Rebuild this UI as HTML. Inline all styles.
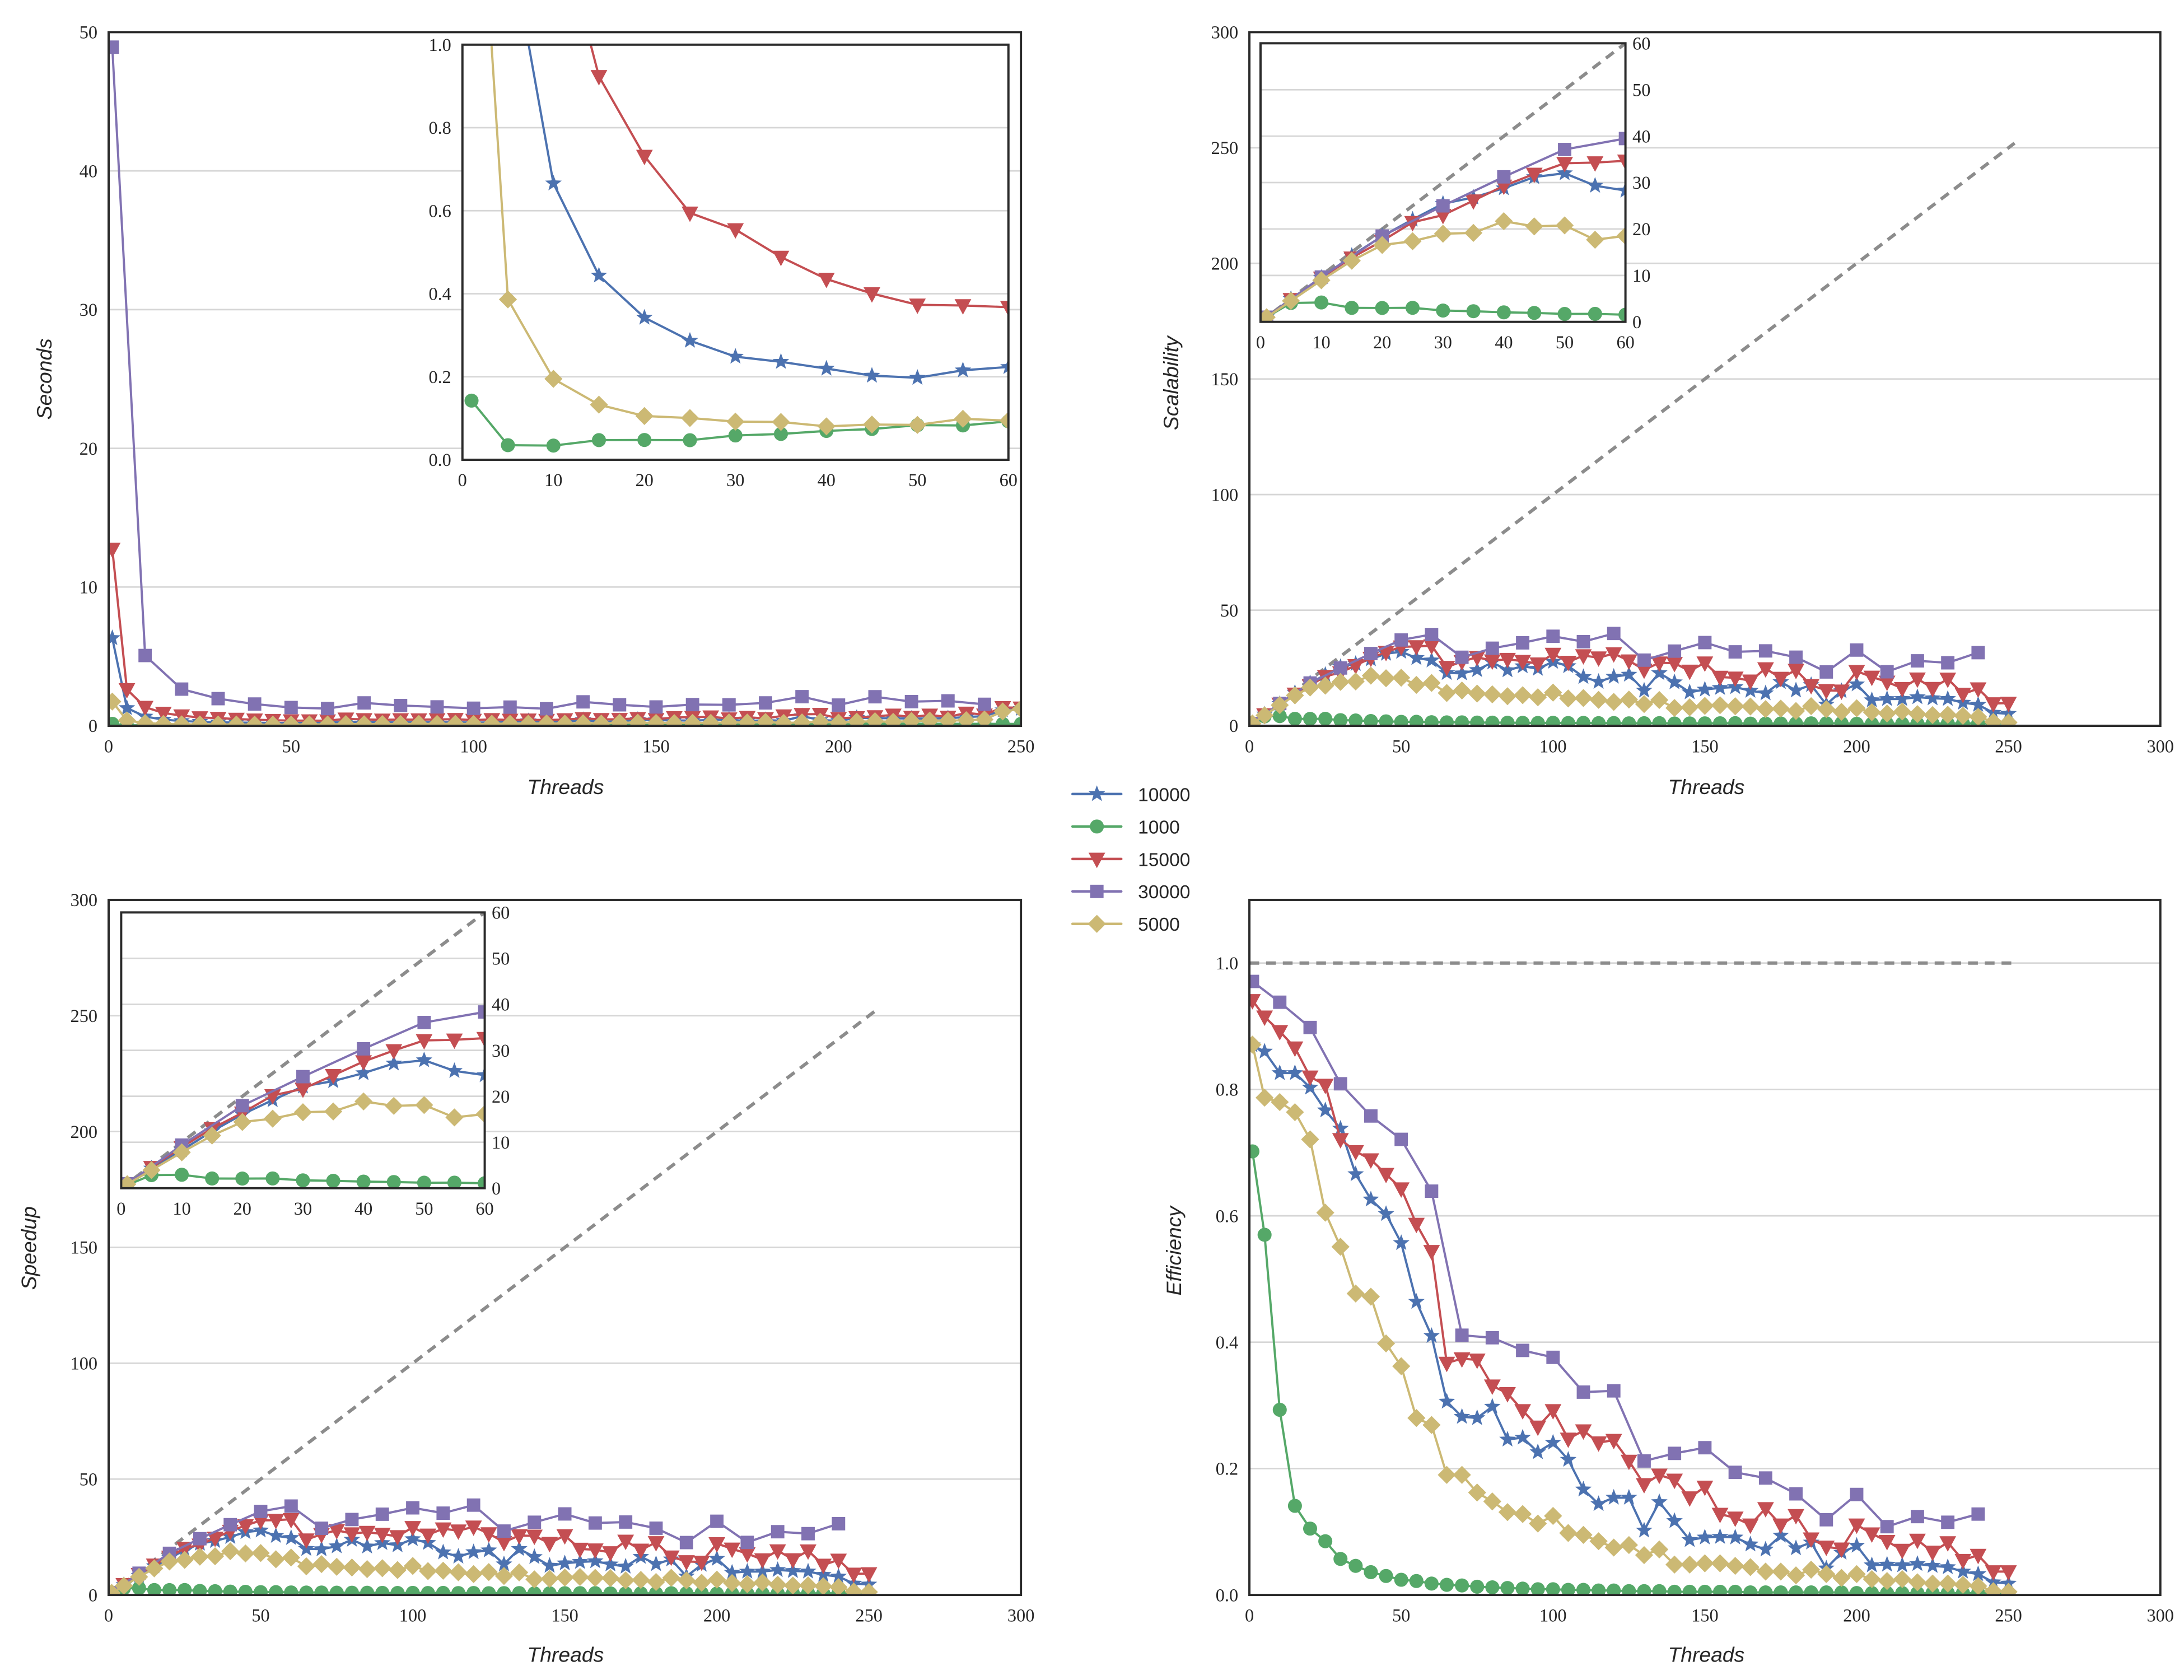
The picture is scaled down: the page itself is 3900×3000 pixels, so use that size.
<!DOCTYPE html>
<html><head><meta charset="utf-8">
<style>
html,body{margin:0;padding:0;background:#fff;}
svg{display:block;}
.tick{font-family:"Liberation Serif",serif;font-size:13px;fill:#262626;}
.alab{font-family:"Liberation Sans",sans-serif;font-style:italic;font-size:15px;fill:#262626;}
.leg{font-family:"Liberation Sans",sans-serif;font-size:13.5px;fill:#262626;}
</style></head>
<body>
<svg id="fig" width="3900" height="3000" viewBox="0 0 1568 1206" xmlns="http://www.w3.org/2000/svg">
<rect width="1568" height="1206" fill="#fff"/>
</svg>
<script>
const threads = [1,5,10,15,20,25,30,35,40,45,50,55,60,65,70,75,80,85,90,95,100,105,110,115,120,125,130,135,140,145,150,155,160,165,170,175,180,185,190,195,200,205,210,215,220,225,230,235,240,245,250];
const threadsCoarse = [1,10,20,30,40,50,60,70,80,90,100,110,120,130,140,150,160,170,180,190,200,210,220,230,240];
const seriesNames = ["10000","1000","15000","30000","5000"];
const effBlue = [0.87,0.86,0.826,0.826,0.803,0.767,0.738,0.666,0.626,0.603,0.557,0.464,0.41,0.306,0.282,0.28,0.298,0.246,0.249,0.226,0.241,0.214,0.167,0.144,0.154,0.154,0.102,0.147,0.117,0.087,0.091,0.092,0.091,0.080,0.072,0.094,0.074,0.083,0.042,0.067,0.078,0.047,0.048,0.047,0.049,0.046,0.044,0.037,0.033,0.020,0.018];
const effGreen = [0.702,0.57,0.293,0.141,0.105,0.085,0.057,0.046,0.036,0.030,0.024,0.022,0.018,0.016,0.015,0.013,0.012,0.011,0.010,0.009,0.009,0.008,0.008,0.007,0.007,0.006,0.006,0.006,0.005,0.005,0.005,0.005,0.005,0.004,0.004,0.004,0.004,0.004,0.004,0.004,0.003,0.003,0.003,0.003,0.003,0.003,0.003,0.003,0.003,0.003,0.003];
const effRed = [0.941,0.915,0.892,0.866,0.82,0.807,0.721,0.702,0.689,0.666,0.643,0.587,0.544,0.367,0.374,0.372,0.331,0.319,0.292,0.266,0.292,0.247,0.26,0.241,0.245,0.212,0.175,0.190,0.182,0.154,0.171,0.128,0.122,0.111,0.137,0.111,0.126,0.089,0.076,0.073,0.111,0.097,0.085,0.071,0.087,0.068,0.083,0.055,0.063,0.037,0.037];
const effPurple = [0.971,0.938,0.898,0.809,0.758,0.721,0.639,0.411,0.407,0.387,0.376,0.321,0.323,0.212,0.224,0.233,0.194,0.185,0.160,0.119,0.159,0.108,0.124,0.115,0.128];
const effYellow = [0.871,0.787,0.780,0.764,0.721,0.605,0.551,0.477,0.472,0.398,0.362,0.280,0.269,0.190,0.190,0.162,0.148,0.131,0.128,0.113,0.125,0.098,0.095,0.085,0.075,0.079,0.063,0.072,0.048,0.048,0.050,0.050,0.046,0.044,0.037,0.037,0.031,0.040,0.033,0.027,0.033,0.025,0.022,0.025,0.020,0.018,0.018,0.016,0.014,0.006,0.005];
const seqSeconds = [5.5, 0.1, 12.0, 47.5, 1.52];
const idealMax = 252;

const NS = "http://www.w3.org/2000/svg";
const fig = document.getElementById("fig");
const colors = ["#4C72B0","#55A868","#C44E52","#8172B2","#CCB974"];
const markers = ["star","circle","tri","square","diamond"];
const effs = [effBlue,effGreen,effRed,effPurple,effYellow];
const xs = [threads,threads,threads,threadsCoarse,threads];
let clipId = 0;

function el(tag, attrs, parent){
  const e = document.createElementNS(NS, tag);
  for (const k in attrs) e.setAttribute(k, attrs[k]);
  (parent||fig).appendChild(e);
  return e;
}
function markerPath(type, cx, cy, s){
  if (type==="circle") return null;
  if (type==="square") return `M${cx-s},${cy-s}h${2*s}v${2*s}h${-2*s}Z`;
  if (type==="diamond") { const d=s*1.35; return `M${cx},${cy-d}L${cx+d},${cy}L${cx},${cy+d}L${cx-d},${cy}Z`; }
  if (type==="tri") { const d=s*1.25; return `M${cx-d},${cy-d*0.75}L${cx+d},${cy-d*0.75}L${cx},${cy+d*1.1}Z`; }
  if (type==="star") {
    let p=""; const R=s*1.3, r=R*0.42;
    for (let i=0;i<10;i++){ const a=-Math.PI/2+i*Math.PI/5; const rr=i%2?r:R;
      p+=(i?"L":"M")+(cx+rr*Math.cos(a)).toFixed(2)+","+(cy+rr*Math.sin(a)).toFixed(2);}
    return p+"Z";
  }
}
function drawMarker(g, type, cx, cy, s, color){
  let m;
  if (type==="circle") m = el("circle",{cx:cx,cy:cy,r:s*1.05,fill:color},g);
  else m = el("path",{d:markerPath(type,cx,cy,s),fill:color},g);
  return m;
}
function valueOf(kind, si, i){
  const e = effs[si][i], n = xs[si][i];
  const e1 = effs[si][0];
  if (kind==="eff") return e;
  if (kind==="speedup") return e*n;
  if (kind==="scal") return e*n/e1;
  if (kind==="sec") return seqSeconds[si]/(e*n);
}
function axes(opt){
  const g = el("g",{});
  
  
  const sx = v => opt.x0 + (v-opt.xmin)/(opt.xmax-opt.xmin)*(opt.x1-opt.x0);
  const sy = v => opt.y1 - (v-opt.ymin)/(opt.ymax-opt.ymin)*(opt.y1-opt.y0);
  el("rect",{x:opt.x0,y:opt.y0,width:opt.x1-opt.x0,height:opt.y1-opt.y0,fill:"#fff"},g);
  opt.yticks.forEach(t=>{
    const gl = el("line",{x1:opt.x0,x2:opt.x1,y1:sy(t),y2:sy(t),stroke:"#d6d6d6","stroke-width":1.1},g);
    
    
    const right = opt.ySide==="right";
    const tx = el("text",{x: right? opt.x1+5 : opt.x0-8, y: sy(t)+4.5, class:"tick","text-anchor": right?"start":"end"},g);
    tx.textContent = opt.yfmt(t);
    
    
  });
  opt.xticks.forEach(t=>{
    const tx = el("text",{x:sx(t),y:opt.y1+19,class:"tick","text-anchor":"middle"},g);
    tx.textContent = String(t);
    
    
  });
  const id = "clip"+(clipId++);
  const cp = el("clipPath",{id:id},g);
  el("rect",{x:opt.x0,y:opt.y0,width:opt.x1-opt.x0,height:opt.y1-opt.y0},cp);
  const plot = el("g",{"clip-path":`url(#${id})`},g);
  
  
  if (opt.ideal){
    let d;
    if (opt.ideal==="diag") d = `M${sx(0)},${sy(0)}L${sx(idealMax)},${sy(idealMax)}`;
    else d = `M${sx(0)},${sy(1)}L${sx(idealMax)},${sy(1)}`;
    const il = el("path",{d:d,stroke:"#8c8c8c","stroke-width":2.4,"stroke-dasharray":"7,5",fill:"none"},plot);
    
    
  }
  for (let si=0; si<5; si++){
    const sg = el("g",{},plot);
    
    
    let d="";
    const pts=[];
    xs[si].forEach((n,i)=>{
      const v = valueOf(opt.kind, si, i);
      const px = sx(n), py = sy(Math.min(v, opt.ymax*3));
      pts.push([px,py]);
      d += (i?"L":"M")+px.toFixed(2)+","+py.toFixed(2);
    });
    const ln = el("path",{d:d,stroke:colors[si],"stroke-width":1.6,fill:"none","stroke-linejoin":"round"},sg);
    
    
    pts.forEach(p=>{
      const m = drawMarker(sg, markers[si], p[0], p[1], opt.ms, colors[si]);
      
      
    });
  }
  const fr = el("rect",{x:opt.x0,y:opt.y0,width:opt.x1-opt.x0,height:opt.y1-opt.y0,fill:"none",stroke:"#2a2a2a","stroke-width":1.6},g);
  
  
  return g;
}
function label(txt, x, y, rot, name){
  const t = el("text",{x:x,y:y,class:"alab","text-anchor":"middle",transform: rot?`rotate(-90 ${x} ${y})`:""});
  t.textContent = txt;
  
  
}
const intFmt = v=>String(v);
const t50 = [0,50,100,150,200,250,300];
const t60 = [0,10,20,30,40,50,60];

axes({name:"seconds-chart",kind:"sec",x0:78,x1:733,y0:23,y1:521,xmin:0,xmax:250,ymin:0,ymax:50,
  xticks:[0,50,100,150,200,250],yticks:[0,10,20,30,40,50],yfmt:intFmt,ms:4.8});
axes({name:"seconds-inset",kind:"sec",x0:332,x1:724,y0:32,y1:330,xmin:0,xmax:60,ymin:0,ymax:1.0,
  xticks:t60,yticks:[0,0.2,0.4,0.6,0.8,1.0],yfmt:v=>v.toFixed(1),ms:4.8});
label("Seconds",37,272,true,"y-axis-title-seconds");
label("Threads",406,570,false,"x-axis-title-seconds");

axes({name:"scalability-chart",kind:"scal",x0:897,x1:1551,y0:23,y1:521,xmin:0,xmax:300,ymin:0,ymax:300,
  xticks:t50,yticks:t50,yfmt:intFmt,ms:4.8,ideal:"diag"});
axes({name:"scalability-inset",kind:"scal",x0:905,x1:1167,y0:31,y1:231,xmin:0,xmax:60,ymin:0,ymax:60,
  xticks:t60,yticks:t60,yfmt:intFmt,ySide:"right",ms:4.8,ideal:"diag"});
label("Scalability",846,275,true,"y-axis-title-scalability");
label("Threads",1225,570,false,"x-axis-title-scalability");

axes({name:"speedup-chart",kind:"speedup",x0:78,x1:733,y0:646,y1:1145,xmin:0,xmax:300,ymin:0,ymax:300,
  xticks:t50,yticks:t50,yfmt:intFmt,ms:4.8,ideal:"diag"});
axes({name:"speedup-inset",kind:"speedup",x0:87,x1:348,y0:655,y1:853,xmin:0,xmax:60,ymin:0,ymax:60,
  xticks:t60,yticks:t60,yfmt:intFmt,ySide:"right",ms:4.8,ideal:"diag"});
label("Speedup",26,896,true,"y-axis-title-speedup");
label("Threads",406,1193,false,"x-axis-title-speedup");

axes({name:"efficiency-chart",kind:"eff",x0:897,x1:1551,y0:646,y1:1145,xmin:0,xmax:300,ymin:0,ymax:1.1,
  xticks:t50,yticks:[0,0.2,0.4,0.6,0.8,1.0],yfmt:v=>v.toFixed(1),ms:4.8,ideal:"flat"});
label("Efficiency",848,898,true,"y-axis-title-efficiency");
label("Threads",1225,1193,false,"x-axis-title-efficiency");

const lg = el("g",{});


for (let si=0; si<5; si++){
  const y = 570 + si*23.3;
  const eg = el("g",{},lg);
  
  
  el("line",{x1:770,x2:805,y1:y,y2:y,stroke:colors[si],"stroke-width":1.8,"stroke-linecap":"round"},eg);
  drawMarker(eg, markers[si], 787.5, y, 4.8, colors[si]);
  const t = el("text",{x:817,y:y+5,class:"leg"},eg);
  t.textContent = seriesNames[si];
}
</script>
</body></html>
